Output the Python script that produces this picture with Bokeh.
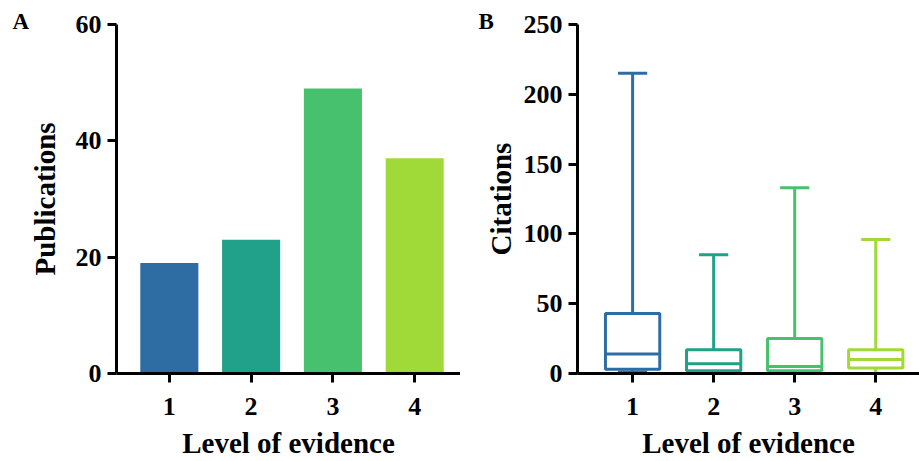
from bokeh.plotting import figure
from bokeh.layouts import row
from bokeh.models import FixedTicker, Range1d, ColumnDataSource
from bokeh.embed import file_html
from bokeh.resources import INLINE

# ---- data ----
levels = [1, 2, 3, 4]
level_labels = {1: "1", 2: "2", 3: "3", 4: "4"}
publications = [19, 23, 49, 37]

cit_min = [1, 0, 0, 0]
cit_q1 = [3, 2, 2, 4]
cit_median = [14, 7, 5, 10]
cit_q3 = [43, 17, 25, 17]
cit_max = [215, 85, 133, 96]

colors = ["#2e6da4", "#21a08a", "#48c16e", "#a0da39"]

pub_ticks = [0, 20, 40, 60]
cit_ticks = [0, 50, 100, 150, 200, 250]

FONT = "Liberation Serif"


def style(p, yticks, ylabel, ylabel_standoff, letter, letter_offset):
    p.xgrid.visible = False
    p.ygrid.visible = False
    p.outline_line_color = None
    p.background_fill_color = "white"
    p.border_fill_color = "white"
    for ax in (p.xaxis[0], p.yaxis[0]):
        ax.axis_line_width = 3
        ax.axis_line_color = "black"
        ax.major_tick_line_width = 3
        ax.major_tick_line_color = "black"
        ax.major_tick_in = 0
        ax.major_tick_out = 9
        ax.minor_tick_line_color = None
        ax.major_label_text_font = FONT
        ax.major_label_text_font_style = "bold"
        ax.major_label_text_font_size = "26px"
        ax.major_label_text_color = "black"
        ax.axis_label_text_font = FONT
        ax.axis_label_text_font_style = "bold"
        ax.axis_label_text_font_size = "29px"
        ax.axis_label_text_color = "black"
    p.xaxis[0].ticker = FixedTicker(ticks=levels)
    p.xaxis[0].major_label_overrides = level_labels
    p.xaxis[0].axis_label = "Level of evidence"
    p.xaxis[0].major_label_standoff = 15
    p.xaxis[0].axis_label_standoff = 9
    p.yaxis[0].ticker = FixedTicker(ticks=yticks)
    p.yaxis[0].axis_label = ylabel
    p.yaxis[0].major_label_standoff = 6
    p.yaxis[0].axis_label_standoff = ylabel_standoff
    # panel letter as the figure title, pulled to the top-left corner
    p.title.text = letter
    p.title.align = "left"
    p.title.offset = letter_offset
    p.title.standoff = -19
    p.title.text_font = FONT
    p.title.text_font_style = "bold"
    p.title.text_font_size = "23px"
    p.title.text_color = "black"


# ---- Panel A: bar chart ----
pa = figure(width=460, height=461, output_backend="svg", toolbar_location=None,
            x_range=Range1d(0.354, 4.56), y_range=Range1d(0, 60),
            min_border_left=116, min_border_right=0, min_border_top=24,
            min_border_bottom=87)
style(pa, pub_ticks, "Publications", 12, "A", -104)
src_a = ColumnDataSource(dict(x=levels, top=publications, color=colors))
pa.vbar(x="x", top="top", width=0.71, bottom=0, fill_color="color",
        line_color=None, source=src_a)

# ---- Panel B: box plot ----
pb = figure(width=459, height=461, output_backend="svg", toolbar_location=None,
            x_range=Range1d(0.32, 4.54), y_range=Range1d(0, 250),
            min_border_left=117, min_border_right=0, min_border_top=24,
            min_border_bottom=85)
style(pb, cit_ticks, "Citations", 4, "B", -99)

box_w = 0.67
cap_w = 0.36
src_b = ColumnDataSource(dict(
    x=levels, q1=cit_q1, q3=cit_q3, med=cit_median, lo=cit_min, hi=cit_max,
    color=colors,
    left=[v - box_w / 2 for v in levels], right=[v + box_w / 2 for v in levels],
    cl=[v - cap_w / 2 for v in levels], cr=[v + cap_w / 2 for v in levels],
))
# whiskers
pb.segment(x0="x", y0="q3", x1="x", y1="hi", line_color="color", line_width=3, source=src_b)
pb.segment(x0="x", y0="lo", x1="x", y1="q1", line_color="color", line_width=3, source=src_b)
# caps
pb.segment(x0="cl", y0="hi", x1="cr", y1="hi", line_color="color", line_width=3, source=src_b)
pb.segment(x0="cl", y0="lo", x1="cr", y1="lo", line_color="color", line_width=3, source=src_b)
# boxes
pb.quad(left="left", right="right", bottom="q1", top="q3", fill_color="white",
        line_color="color", line_width=3, source=src_b)
# medians
pb.segment(x0="left", y0="med", x1="right", y1="med", line_color="color", line_width=3, source=src_b)

layout = row(pa, pb, spacing=0)
open("out.html", "w").write(file_html(layout, INLINE))
